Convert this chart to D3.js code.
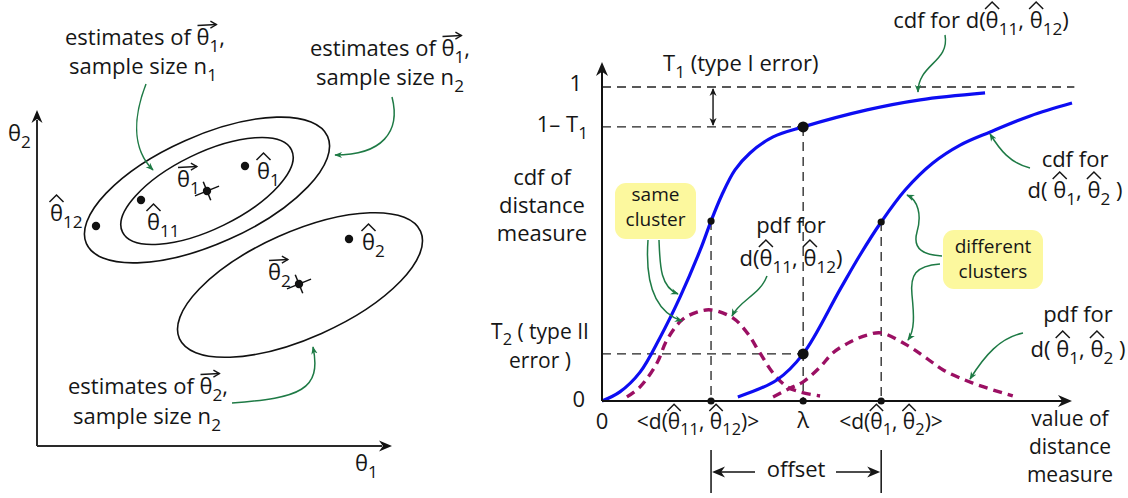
<!DOCTYPE html>
<html>
<head>
<meta charset="utf-8">
<script src="https://cdn.jsdelivr.net/npm/d3@7"></script>
<style>
  body { margin: 0; background: #fff; }
  text { font-family: "Open Sans", "Noto Sans", sans-serif; fill: #161616; white-space: pre; }
</style>
</head>
<body>
<svg id="fig" width="1128" height="498"></svg>
<script>
// ---------- Left panel: estimates in parameter space (θ1, θ2) ----------
const pointNames  = ["trueTheta1", "hatTheta1", "hatTheta11", "hatTheta12", "hatTheta2", "trueTheta2"];
const pointTheta1 = [17.0, 20.8, 10.4, 5.9, 31.2, 26.2];
const pointTheta2 = [25.5, 28.0, 24.6, 22.0, 20.7, 16.2];

// confidence regions: outer n2 region of θ1, inner n1 region of θ1, n2 region of θ2
const ellipseCx   = [17.0, 17.0, 26.3];
const ellipseCy   = [25.6, 25.5, 16.1];
const ellipseRx   = [13.2, 9.4, 13.2];
const ellipseRy   = [5.4, 3.8, 5.3];
const ellipseTilt = [24, 26, 24];

// ---------- Right panel: distributions of the distance measure ----------
const cdfSameX = [0, 0.38, 0.81, 1.23, 1.66, 2.09, 2.32, 2.55, 2.83, 3.15, 3.64, 4.28, 5.64, 6.77, 8.15];
const cdfSameY = [0, 0.029, 0.092, 0.201, 0.331, 0.481, 0.573, 0.656, 0.736, 0.790, 0.841, 0.873, 0.927, 0.959, 0.981];

const cdfDiffX = [2.89, 3.72, 4.28, 5.06, 5.49, 5.94, 6.45, 7.04, 7.62, 8.26, 9.11, 10.0];
const cdfDiffY = [0.013, 0.067, 0.150, 0.354, 0.465, 0.570, 0.672, 0.758, 0.815, 0.857, 0.908, 0.949];

const pdfSameX = [0.53, 0.81, 1.17, 1.38, 1.70, 2.02, 2.32, 2.79, 3.09, 3.36, 3.64, 3.94, 4.21, 4.64];
const pdfSameY = [0.013, 0.045, 0.121, 0.194, 0.258, 0.283, 0.290, 0.264, 0.217, 0.153, 0.089, 0.045, 0.029, 0.016];

const pdfDiffX = [3.64, 4.06, 4.28, 4.64, 4.91, 5.28, 5.64, 5.94, 6.49, 6.87, 7.26, 7.89, 8.74];
const pdfDiffY = [0.013, 0.045, 0.061, 0.108, 0.153, 0.188, 0.210, 0.217, 0.178, 0.140, 0.099, 0.057, 0.016];

const meanSame = 2.32, lambda = 4.28, meanDiff = 5.94;
const cdfAtMeanSame = 0.573, cdfAtMeanDiff = 0.570;
const oneMinusT1 = 0.873, T2 = 0.150;

// ---------- styles ----------
const BLUE = "#0d0df2", MAGENTA = "#9b0f63", GREEN = "#1e7a45", INK = "#161616";
const FS = 22;

const svg = d3.select("#fig");
const defs = svg.append("defs");
defs.append("marker").attr("id", "gArrow")
  .attr("viewBox", "0 0 10 10").attr("refX", 9).attr("refY", 5)
  .attr("markerWidth", 8).attr("markerHeight", 8).attr("markerUnits", "userSpaceOnUse")
  .attr("orient", "auto")
  .append("path").attr("d", "M0,1 L10,5 L0,9 L3,5 Z").attr("fill", GREEN);

// Text with subscripts (_x or _{xy}), hats (^θ) and vector arrows (~θ)
function mlabel(g, x, y, src, opt = {}) {
  const size = opt.size || FS, anchor = opt.anchor || "middle";
  const text = g.append("text").attr("x", x).attr("y", y)
    .attr("text-anchor", anchor).style("font-size", size + "px");
  const runs = [];
  let cur = { s: "", sub: false }; runs.push(cur);
  const marks = []; let count = 0, i = 0;
  while (i < src.length) {
    const c = src[i];
    if (c === "^" || c === "~") { marks.push({ idx: count, kind: c === "^" ? "hat" : "vec" }); i++; continue; }
    if (c === "_") {
      let s;
      if (src[i + 1] === "{") { const j = src.indexOf("}", i); s = src.slice(i + 2, j); i = j + 1; }
      else { s = src[i + 1]; i += 2; }
      runs.push({ s, sub: true }); count += s.length;
      cur = { s: "", sub: false }; runs.push(cur);
      continue;
    }
    cur.s += c; count++; i++;
  }
  let low = false;
  const shift = 0.3 * size;
  runs.filter(r => r.s.length).forEach(r => {
    const ts = text.append("tspan").text(r.s);
    if (r.sub && !low) { ts.attr("dy", shift); low = true; }
    else if (!r.sub && low) { ts.attr("dy", -shift); low = false; }
    if (r.sub) ts.style("font-size", (0.78 * size) + "px");
  });
  const node = text.node();
  const n = node.getNumberOfChars();
  marks.forEach(m => {
    const ex = node.getExtentOfChar(m.idx);
    if (m.kind === "hat") {
      const yb = y - 0.86 * size, yp = y - 1.18 * size;
      g.append("path")
        .attr("d", `M${ex.x - 0.04 * ex.width},${yb} L${ex.x + 0.5 * ex.width},${yp} L${ex.x + 1.04 * ex.width},${yb}`)
        .attr("fill", "none").attr("stroke", INK).attr("stroke-width", 1.5);
    } else {
      const nx = m.idx + 1 < n ? node.getExtentOfChar(m.idx + 1) : null;
      const x0 = ex.x + 1, x1 = ex.x + ex.width + (nx ? 0.7 * nx.width : 0);
      const yv = y - 0.93 * size;
      g.append("path").attr("d", `M${x0},${yv + 1} L${x1},${yv}`)
        .attr("fill", "none").attr("stroke", INK).attr("stroke-width", 1.4);
      g.append("path").attr("d", `M${x1 - 6},${yv - 3.5} L${x1},${yv} L${x1 - 6},${yv + 3.5}`)
        .attr("fill", "none").attr("stroke", INK).attr("stroke-width", 1.4);
    }
  });
  return text;
}

// filled swept arrowhead at (x,y) pointing along angle (radians)
function head(g, x, y, ang, len = 14, half = 6, fill = INK) {
  const c = Math.cos(ang), s = Math.sin(ang);
  const pt = (a, b) => [x + a * c - b * s, y + a * s + b * c];
  const p1 = pt(-len, -half), p2 = pt(-len * 0.7, 0), p3 = pt(-len, half);
  g.append("path").attr("d", `M${x},${y} L${p1} L${p2} L${p3} Z`).attr("fill", fill);
}

function greenArrow(g, d) {
  g.append("path").attr("d", d).attr("fill", "none").attr("stroke", GREEN)
    .attr("stroke-width", 1.5).attr("marker-end", "url(#gArrow)");
}

// =================== LEFT PANEL ===================
const L = svg.append("g");
const xL = d3.scaleLinear().domain([0, 35.5]).range([37, 392]);
const yL = d3.scaleLinear().domain([0, 33.6]).range([446, 110]);
const pxPerUnit = xL(1) - xL(0);

// axes
L.append("path").attr("d", `M${xL(0)},${yL(0)} L${xL(0)},${yL(33.6) + 10}`).attr("stroke", "#2a2a2a").attr("stroke-width", 2).attr("fill", "none");
L.append("path").attr("d", `M${xL(0)},${yL(0)} L${xL(35.5) - 10},${yL(0)}`).attr("stroke", "#2a2a2a").attr("stroke-width", 2).attr("fill", "none");
head(L, xL(0), yL(33.6), -Math.PI / 2, 13, 5.5, "#111");
head(L, xL(35.5), yL(0), 0, 13, 5.5, "#111");

// ellipses
ellipseCx.forEach((cx, k) => {
  const px = xL(cx), py = yL(ellipseCy[k]);
  L.append("ellipse").attr("cx", px).attr("cy", py)
    .attr("rx", ellipseRx[k] * pxPerUnit).attr("ry", ellipseRy[k] * pxPerUnit)
    .attr("transform", `rotate(${-ellipseTilt[k]},${px},${py})`)
    .attr("fill", "none").attr("stroke", "#111").attr("stroke-width", 1.6);
});

// true parameter markers (cross through the point)
[0, 5].forEach(k => {
  const px = xL(pointTheta1[k]), py = yL(pointTheta2[k]);
  const a = -22 * Math.PI / 180, r = 13, r2 = 10;
  L.append("path").attr("d",
    `M${px - r * Math.cos(a)},${py - r * Math.sin(a)} L${px + r * Math.cos(a)},${py + r * Math.sin(a)}` +
    ` M${px + r2 * Math.sin(a)},${py - r2 * Math.cos(a)} L${px - r2 * Math.sin(a)},${py + r2 * Math.cos(a)}`)
    .attr("stroke", "#111").attr("stroke-width", 1.5);
});
// points
pointTheta1.forEach((t1, k) => {
  L.append("circle").attr("cx", xL(t1)).attr("cy", yL(pointTheta2[k])).attr("r", 4.2).attr("fill", "#111");
});

// point labels
const pLabel = {
  trueTheta1: ["~θ_1", -30, -4],
  hatTheta1:  ["^θ_1", 12, 13],
  hatTheta11: ["^θ_{11}", 6, 30],
  hatTheta12: ["^θ_{12}", -46, -5],
  hatTheta2:  ["^θ_2", 13, 11],
  trueTheta2: ["~θ_2", -31, -4]
};
pointNames.forEach((nm, k) => {
  const [s, dx, dy] = pLabel[nm];
  mlabel(L, xL(pointTheta1[k]) + dx, yL(pointTheta2[k]) + dy, s, { anchor: "start" });
});

// axis labels
mlabel(L, 8, 141, "θ_2", { anchor: "start" });
mlabel(L, 355, 471, "θ_1", { anchor: "start" });

// annotations
mlabel(L, 145, 45, "estimates of ~θ_1,");
mlabel(L, 143, 74, "sample size n_1");
mlabel(L, 390, 56, "estimates of ~θ_1,");
mlabel(L, 390, 85, "sample size n_2");
mlabel(L, 148, 394, "estimates of ~θ_2,");
mlabel(L, 147, 424, "sample size n_2");
greenArrow(L, "M146,84 C134,115 131,148 153,170");
greenArrow(L, "M392,97 C401,132 382,155 335,155");
greenArrow(L, "M232,403 C300,398 322,390 313,347");

// =================== RIGHT PANEL ===================
const R = svg.append("g");
const xR = d3.scaleLinear().domain([0, 10]).range([602, 1072]);
const yR = d3.scaleLinear().domain([0, 1]).range([401, 87]);

const dash = "9,6";
const dLine = (x1, y1, x2, y2) => R.append("line")
  .attr("x1", x1).attr("y1", y1).attr("x2", x2).attr("y2", y2)
  .attr("stroke", "#222").attr("stroke-width", 1.3).attr("stroke-dasharray", dash);

// reference lines
dLine(xR(0), yR(1), xR(10.05), yR(1));
dLine(xR(0), yR(oneMinusT1), xR(lambda), yR(oneMinusT1));
dLine(xR(0), yR(T2), xR(lambda), yR(T2));
dLine(xR(meanSame), yR(cdfAtMeanSame), xR(meanSame), yR(0));
dLine(xR(lambda), yR(oneMinusT1), xR(lambda), yR(0));
dLine(xR(meanDiff), yR(cdfAtMeanDiff), xR(meanDiff), yR(0));

// pdfs
const lineGen = d3.line().x(d => xR(d[0])).y(d => yR(d[1])).curve(d3.curveCatmullRom.alpha(0.5));
const zip = (a, b) => a.map((v, i) => [v, b[i]]);
[[pdfSameX, pdfSameY], [pdfDiffX, pdfDiffY]].forEach(([xs, ys]) => {
  R.append("path").attr("d", lineGen(zip(xs, ys)))
    .attr("fill", "none").attr("stroke", MAGENTA).attr("stroke-width", 3.4)
    .attr("stroke-dasharray", "9,6");
});
// cdfs
[[cdfSameX, cdfSameY], [cdfDiffX, cdfDiffY]].forEach(([xs, ys]) => {
  R.append("path").attr("d", lineGen(zip(xs, ys)))
    .attr("fill", "none").attr("stroke", BLUE).attr("stroke-width", 3.2);
});

// axes
R.append("path").attr("d", `M${xR(0)},${yR(0)} L${xR(0)},${yR(1.07)}`).attr("stroke", "#111").attr("stroke-width", 2);
R.append("path").attr("d", `M${xR(0)},${yR(0)} L${xR(10) - 10},${yR(0)}`).attr("stroke", "#111").attr("stroke-width", 2);
head(R, xR(0), yR(1.08), -Math.PI / 2, 14, 6);
head(R, xR(10), yR(0), 0, 14, 6);

// markers
[[meanSame, 0, 3.6], [lambda, 0, 3.6], [meanDiff, 0, 3.6],
 [meanSame, cdfAtMeanSame, 3.6], [meanDiff, cdfAtMeanDiff, 3.6],
 [lambda, oneMinusT1, 5.5], [lambda, T2, 5.5]].forEach(([x, y, r]) => {
  R.append("circle").attr("cx", xR(x)).attr("cy", yR(y)).attr("r", r).attr("fill", "#111");
});

// T1 double arrow
const xa = xR(meanSame) + 2;
R.append("line").attr("x1", xa).attr("y1", yR(1) + 2).attr("x2", xa).attr("y2", yR(oneMinusT1) - 2)
  .attr("stroke", "#111").attr("stroke-width", 1.4);
head(R, xa, yR(1) + 1, -Math.PI / 2, 8, 3.5);
head(R, xa, yR(oneMinusT1) - 1, Math.PI / 2, 8, 3.5);

// offset bracket
const yo = 472;
[meanSame, meanDiff].forEach(v => {
  R.append("line").attr("x1", xR(v)).attr("y1", 450).attr("x2", xR(v)).attr("y2", 493)
    .attr("stroke", "#111").attr("stroke-width", 1.5);
});
R.append("line").attr("x1", 755).attr("y1", yo).attr("x2", xR(meanSame) + 6).attr("y2", yo).attr("stroke", "#111").attr("stroke-width", 1.5);
R.append("line").attr("x1", 836).attr("y1", yo).attr("x2", xR(meanDiff) - 6).attr("y2", yo).attr("stroke", "#111").attr("stroke-width", 1.5);
head(R, xR(meanSame) + 1, yo, Math.PI, 13, 5.5);
head(R, xR(meanDiff) - 1, yo, 0, 13, 5.5);
mlabel(R, 796, 477, "offset");

// axis labels
mlabel(R, 582, 91, "1", { anchor: "end" });
mlabel(R, 588, 132, "1– T_1", { anchor: "end" });
mlabel(R, 585, 407, "0", { anchor: "end" });
mlabel(R, xR(0), 429, "0");
mlabel(R, 542, 185, "cdf of");
mlabel(R, 542, 213, "distance");
mlabel(R, 542, 241, "measure");
mlabel(R, 540, 339, "T_2 ( type II", { size: 21 });
mlabel(R, 540, 368, "error )", { size: 21 });
mlabel(R, 663, 71, "T_1 (type I error)", { anchor: "start" });
mlabel(R, 698, 429, "<d(^θ_{11}, ^θ_{12})>", { size: 21 });
mlabel(R, xR(lambda), 428, "λ");
mlabel(R, 891, 429, "<d(^θ_1, ^θ_2)>", { size: 21 });
mlabel(R, 1070, 426, "value of", { size: 21 });
mlabel(R, 1070, 454, "distance", { size: 21 });
mlabel(R, 1070, 482, "measure", { size: 21 });

// curve annotations
mlabel(R, 981, 28, "cdf for d(^θ_{11}, ^θ_{12})");
mlabel(R, 1075, 167, "cdf for");
mlabel(R, 1075, 198, "d( ^θ_1, ^θ_2 )");
mlabel(R, 791, 233, "pdf for");
mlabel(R, 791, 266, "d(^θ_{11}, ^θ_{12})");
mlabel(R, 1078, 322, "pdf for");
mlabel(R, 1078, 357, "d( ^θ_1, ^θ_2 )");

greenArrow(R, "M945,35 C950,62 918,64 918,92");
greenArrow(R, "M1030,168 C1010,163 1000,150 990,134");
greenArrow(R, "M767,276 C760,295 740,300 732,316");
greenArrow(R, "M659,240 C660,265 660,287 678,294");
greenArrow(R, "M648,240 C645,282 655,312 682,321");
greenArrow(R, "M942,256 C925,255 912,250 917,232 C922,215 918,200 907,195");
greenArrow(R, "M940,264 C915,266 910,275 912,295 C914,315 915,330 908,340");
greenArrow(R, "M1023,333 C1000,338 985,355 970,379");

// callout boxes
R.append("rect").attr("x", 615).attr("y", 183).attr("width", 81).attr("height", 56).attr("rx", 11)
  .attr("fill", "#fcf89e");
mlabel(R, 655.5, 201, "same", { size: 19 });
mlabel(R, 655.5, 226, "cluster", { size: 19 });
R.append("rect").attr("x", 943).attr("y", 230).attr("width", 100).attr("height", 59).attr("rx", 11)
  .attr("fill", "#fcf89e");
mlabel(R, 993, 253, "different", { size: 19 });
mlabel(R, 993, 278, "clusters", { size: 19 });
</script>
</body>
</html>
